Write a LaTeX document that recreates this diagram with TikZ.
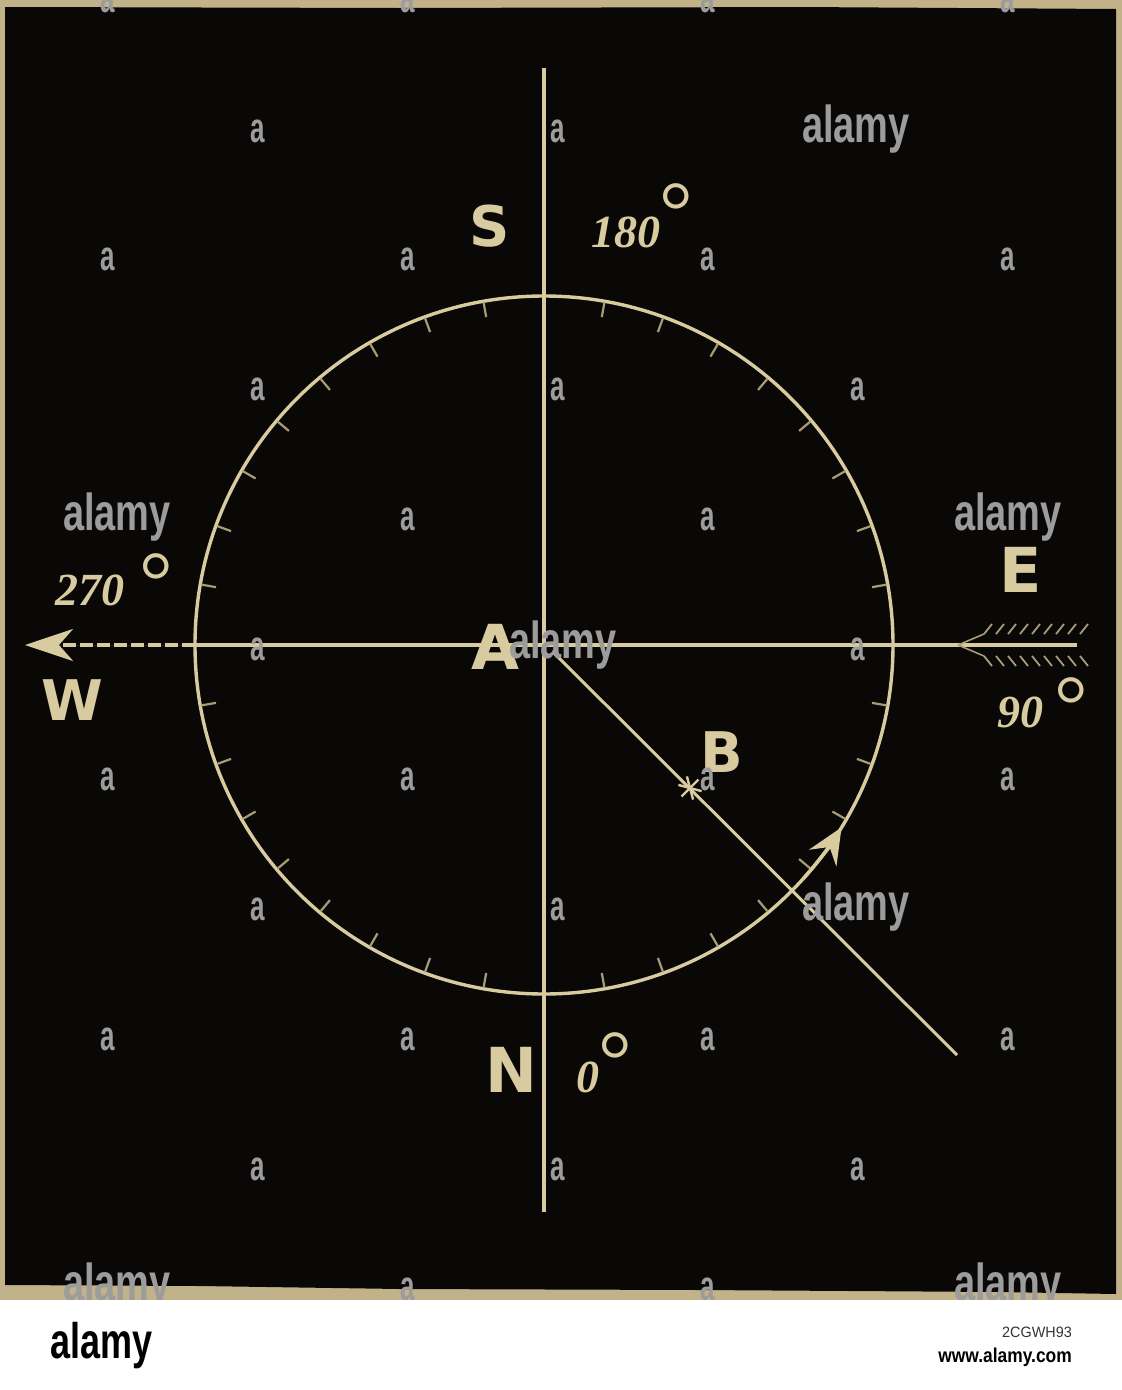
\documentclass[tikz,border=0pt]{standalone}
\usepackage{fontspec}
\setmainfont{Liberation Serif}
\newfontfamily\lblfont{DejaVu Sans}
\newfontfamily\numfont{Liberation Serif}
\newfontfamily\wmfont{Liberation Sans}
\usetikzlibrary{arrows.meta,calc}
\definecolor{plate}{HTML}{0A0806}
\definecolor{cream}{HTML}{D9CBA0}
\definecolor{creamdim}{HTML}{A99B76}
\definecolor{edge}{HTML}{C2B28A}
\definecolor{wmgray}{HTML}{9C9C9C}
\tikzset{
  ln/.style={draw=cream, line width=3.4pt},
  tick/.style={draw=creamdim, line width=2.2pt},
  lbl/.style={text=cream, inner sep=0pt, font=\lblfont\bfseries\fontsize{56}{56}\selectfont},
  biglbl/.style={lbl, font=\lblfont\bfseries\fontsize{62}{62}\selectfont},
  num/.style={text=cream, inner sep=0pt, font=\numfont\bfseries\itshape\fontsize{46}{46}\selectfont},
  deg/.style={text=cream, inner sep=0pt, anchor=north, font=\numfont\fontsize{84}{84}\selectfont},
  wma/.style={text=wmgray, inner sep=0pt, anchor=base, xscale=0.62, font=\wmfont\bfseries\fontsize{42}{42}\selectfont},
  wmlogo/.style={text=wmgray, inner sep=0pt, anchor=base, xscale=0.73, font=\wmfont\bfseries\fontsize{52}{52}\selectfont},
  arrowtip/.style={-{Stealth[length=48pt,width=32pt,inset=14pt]}},
}
\begin{document}
\begin{tikzpicture}[x=1pt,y=-1pt]
\useasboundingbox (0,0) rectangle (1122,1390);
% page and plate
\fill[white] (0,0) rectangle (1122,1390);
\fill[edge] (0,0) rectangle (1122,1300);
\fill[plate] (5,7) -- (400,8) -- (800,7) -- (1116,9) -- (1116,1294)
  -- (1000,1292) -- (700,1290) -- (400,1289) -- (200,1286) -- (5,1285) -- cycle;

% named points
\coordinate (c) at (544,645);
\coordinate (top) at (544,68);
\coordinate (bot) at (544,1212);
\coordinate (wtip) at (25,645);
\coordinate (wcirc) at (195,645);
\coordinate (eend) at (1077,645);
\coordinate (dstart) at (553,652);
\coordinate (dend) at (957,1055);
\coordinate (star) at (690,788);

% axes
\draw[ln] (top) -- (bot);
\draw[ln] (eend) -- (wcirc);
\draw[ln, arrowtip, dash pattern=on 13pt off 4pt, fill=cream] (wcirc) -- (wtip);

% circle with ticks
\draw[ln] (c) circle[radius=349];
\foreach \q in {0,90,180,270}{
  \foreach \a in {10,20,...,80}{
    \draw[tick] ($(c)+(\q+\a:348)$) -- ($(c)+(\q+\a:333)$);
  }
}

% diagonal and star
\draw[ln, line width=3pt] (dstart) -- (dend);
\foreach \r in {0,60,120}{
  \draw[draw=cream, line width=2.4pt] ($(star)+(\r+15:12)$) -- ($(star)+(\r+195:12)$);
}

% arrow on circle
\draw[ln, -{Stealth[length=36pt,width=32pt,inset=13pt]}, fill=cream]
  ($(c)+(42:349)$) arc[start angle=42, end angle=31.5, radius=349];

% feathered tail at E
\foreach \x in {984,996,...,1080}{
  \draw[draw=creamdim, line width=1.8pt] (\x,634) -- (\x+8,624);
  \draw[draw=creamdim, line width=1.8pt] (\x,656) -- (\x+8,666);
}
\draw[draw=creamdim, line width=1.6pt] (958,645) -- (984,634);
\draw[draw=creamdim, line width=1.6pt] (958,645) -- (984,656);

% labels
\node[lbl] (S) at (490,226) {S};
\node[biglbl] (E) at (1021,570) {E};
\node[lbl] (W) at (72,700) {W};
\node[biglbl] (N) at (511,1070) {N};
\node[biglbl] (A) at (495,647) {A};
\node[lbl] (B) at (722,752) {B};

\node[num] (n180) at (626,232) {180};
\node[deg] (d180) at (676,183) {°};
\node[num] (n270) at (90,590) {270};
\node[deg] (d270) at (156,553) {°};
\node[num] (n90) at (1020,712) {90};
\node[deg] (d90) at (1071,677) {°};
\node[num] (n0) at (588,1077) {0};
\node[deg] (d0) at (615,1032) {°};

% watermarks
\foreach \x in {108,408,708,1008}{\node[wma] at (\x,12) {a};}
\foreach \x in {258,558}{\node[wma] at (\x,142) {a};}
\node[wmlogo] (wm1) at (856,142) {alamy};
\foreach \x in {108,408,708,1008}{\node[wma] at (\x,270) {a};}
\foreach \x in {258,558,858}{\node[wma] at (\x,400) {a};}
\node[wmlogo] (wm2) at (117,530) {alamy};
\foreach \x in {408,708}{\node[wma] at (\x,530) {a};}
\node[wmlogo] (wm3) at (1008,530) {alamy};
\foreach \x in {258,858}{\node[wma] at (\x,660) {a};}
\node[wmlogo] (wm4) at (563,658) {alamy};
\foreach \x in {108,408,708,1008}{\node[wma] at (\x,790) {a};}
\foreach \x in {258,558}{\node[wma] at (\x,920) {a};}
\node[wmlogo] (wm5) at (856,920) {alamy};
\foreach \x in {108,408,708,1008}{\node[wma] at (\x,1050) {a};}
\foreach \x in {258,558,858}{\node[wma] at (\x,1180) {a};}
\node[wmlogo] (wm6) at (117,1300) {alamy};
\foreach \x in {408,708}{\node[wma] at (\x,1300) {a};}
\node[wmlogo] (wm7) at (1008,1300) {alamy};

% bottom strip
\fill[white] (0,1300) rectangle (1122,1390);
\node[inner sep=0pt, anchor=base west, xscale=0.72, text=black,
  font=\wmfont\bfseries\fontsize{50}{50}\selectfont] (logo) at (50,1358) {alamy};
\node[inner sep=0pt, anchor=base east, xscale=0.96, text=black!80,
  font=\wmfont\fontsize{15}{15}\selectfont] (imgid) at (1072,1337) {{\color{white}Image ID: }2CGWH93};
\node[inner sep=0pt, anchor=base east, xscale=0.87, text=black,
  font=\wmfont\bfseries\fontsize{20}{20}\selectfont] (www) at (1072,1362) {www.alamy.com};
\end{tikzpicture}
\end{document}
